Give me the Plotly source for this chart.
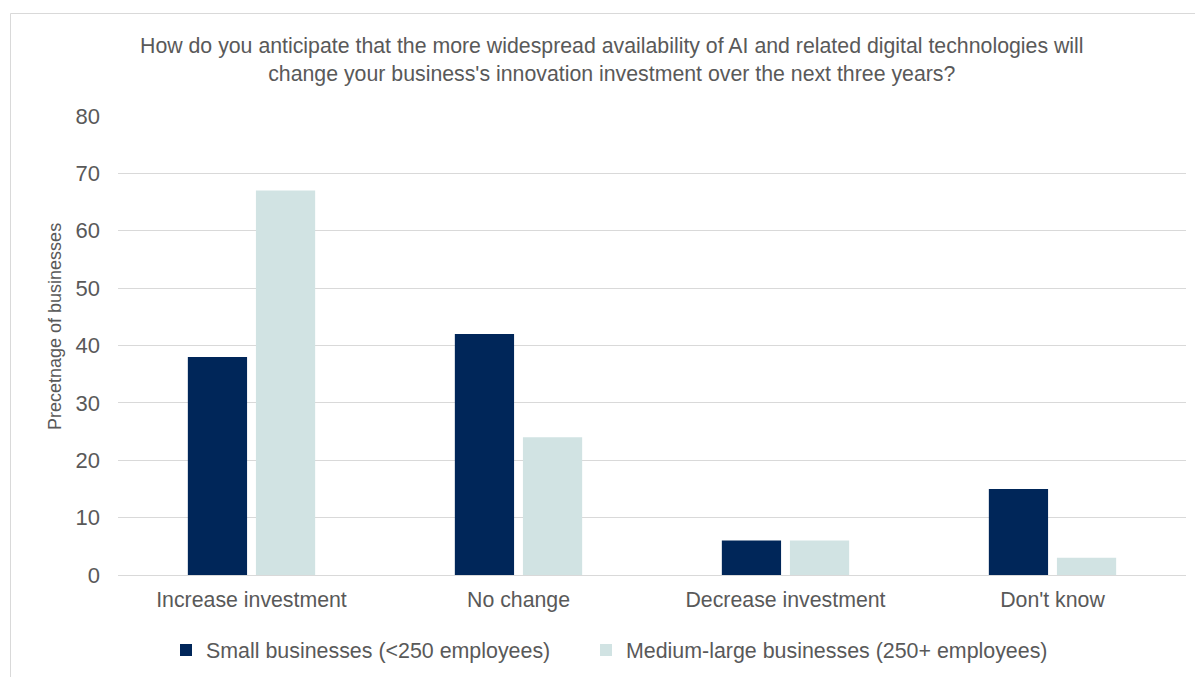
import plotly.graph_objects as go

categories = ["Increase investment", "No change", "Decrease investment", "Don't know"]
small_vals = [38, 42, 6, 15]
medium_vals = [67, 24, 6, 3]
series_names = ["Small businesses (<250 employees)", "Medium-large businesses (250+ employees)"]
y_ticks = [0, 10, 20, 30, 40, 50, 60, 70, 80]

FONT = "Arial, Liberation Sans, sans-serif"
GREY = "#595959"

fig = go.Figure()
fig.add_trace(go.Bar(x=categories, y=small_vals, name=series_names[0], legend="legend",
                     marker=dict(color="#002659", line=dict(width=0))))
fig.add_trace(go.Bar(x=categories, y=medium_vals, name=series_names[1], legend="legend2",
                     marker=dict(color="#D1E3E3", line=dict(width=0))))

# page is offset by 8px body margin
OFF = 8
W, H = 1203 - OFF, 677 - OFF
L, R, T, B = 118 - OFF, 1186 - OFF, 116 - OFF, 575 - OFF
pw, ph = R - L, B - T

def px_x(x):
    return (x - OFF - L) / pw

def px_y(y):
    return (B - (y - OFF)) / ph

leg_common = dict(orientation="h", xanchor="left", y=px_y(650), yanchor="middle",
                  font=dict(size=21.4, color=GREY), itemwidth=30, bgcolor="rgba(0,0,0,0)")

fig.update_layout(
    width=W, height=H,
    margin=dict(l=L, r=W - R, t=T, b=H - B, autoexpand=False),
    paper_bgcolor="white", plot_bgcolor="white",
    font=dict(family=FONT, color=GREY, size=20),
    barmode="group", bargap=0.49, bargroupgap=0.13,
    showlegend=True,
    legend=dict(x=px_x(166), **leg_common),
    legend2=dict(x=px_x(586), **leg_common),
    xaxis=dict(showgrid=False, showline=False, ticks="", tickfont=dict(size=21.3, color=GREY),
               ticklabelstandoff=10),
    yaxis=dict(range=[0, 80], tickvals=y_ticks, showgrid=True, gridcolor="#D9D9D9", gridwidth=1,
               zeroline=True, zerolinecolor="#D9D9D9", zerolinewidth=1, showline=False,
               tickfont=dict(size=22, color=GREY), ticklabelstandoff=17),
    annotations=[
        dict(text="How do you anticipate that the more widespread availability of AI and related digital technologies will<br>change your business's innovation investment over the next three years?",
             xref="paper", yref="paper", x=px_x(612), y=px_y(60), xanchor="center", yanchor="middle",
             showarrow=False, font=dict(size=21.3, color=GREY), align="center"),
        dict(text="Precetnage of businesses", textangle=-90,
             xref="paper", yref="paper", x=px_x(55), y=px_y(327), xanchor="center", yanchor="middle",
             showarrow=False, font=dict(size=18, color=GREY)),
    ],
    shapes=[dict(type="rect", xref="paper", yref="paper",
                 x0=px_x(10.5), x1=px_x(1250), y0=px_y(720), y1=px_y(13.5),
                 line=dict(color="#D9D9D9", width=1), fillcolor="rgba(0,0,0,0)", layer="below")],
)

fig.write_html("out.html")
